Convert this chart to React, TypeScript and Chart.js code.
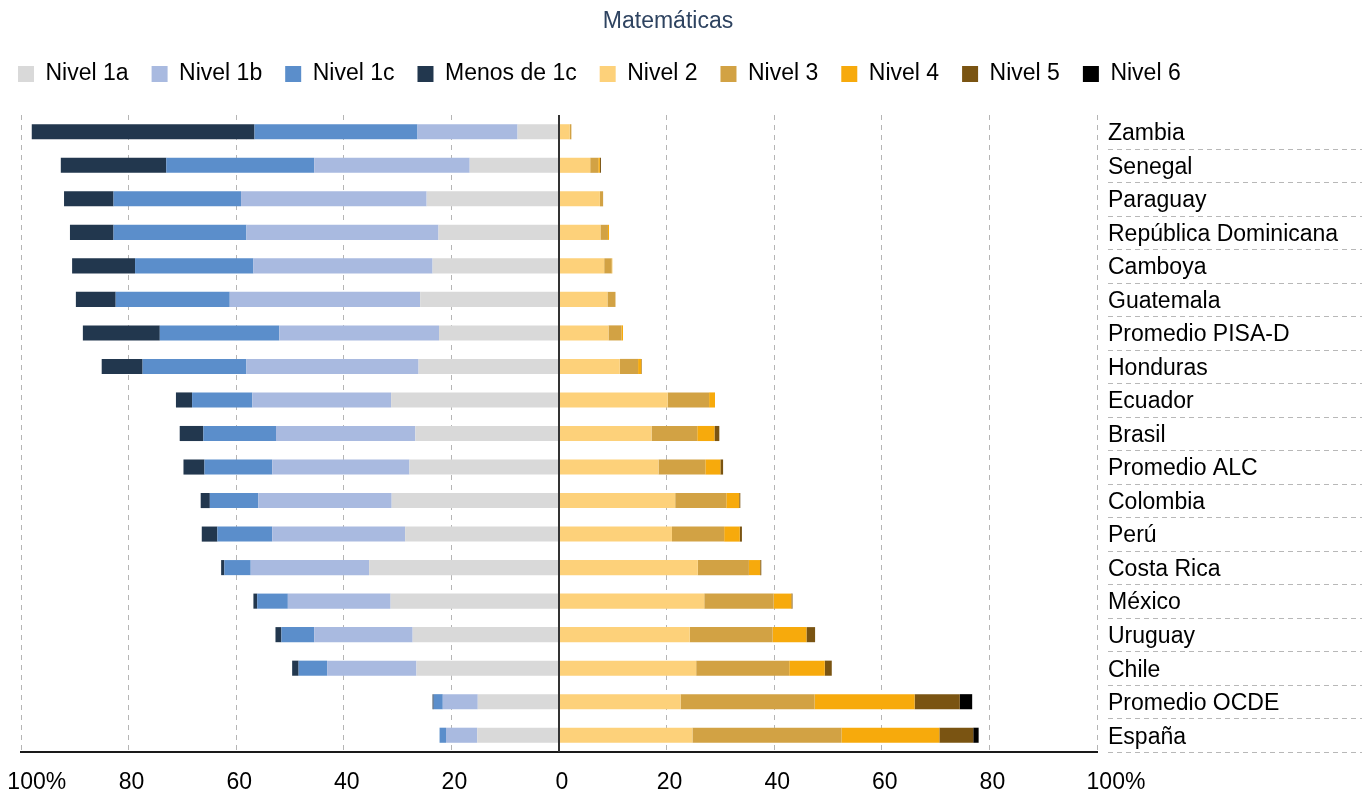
import React, { useEffect, useRef } from 'react';
import { Chart, registerables } from 'chart.js';

Chart.register(...registerables);

const countries = [
  'Zambia', 'Senegal', 'Paraguay', 'República Dominicana', 'Camboya', 'Guatemala',
  'Promedio PISA-D', 'Honduras', 'Ecuador', 'Brasil', 'Promedio ALC', 'Colombia',
  'Perú', 'Costa Rica', 'México', 'Uruguay', 'Chile', 'Promedio OCDE', 'España',
];

// Below level 2 (drawn to the left of 0)
const nivel1a = [7.7, 16.6, 24.6, 22.4, 23.5, 25.8, 22.3, 26.1, 31.2, 26.7, 27.8, 31.1, 28.6, 35.3, 31.3, 27.2, 26.5, 15.1, 15.2];
const nivel1b = [18.6, 28.9, 34.5, 35.7, 33.3, 35.4, 29.7, 32.0, 25.8, 25.9, 25.5, 24.8, 24.7, 22.0, 19.1, 18.3, 16.6, 6.5, 5.8];
const nivel1c = [30.3, 27.5, 23.7, 24.7, 22.0, 21.2, 22.2, 19.3, 11.2, 13.5, 12.6, 9.0, 10.2, 4.9, 5.7, 6.1, 5.3, 1.7, 1.2];
const menos1c = [41.4, 19.6, 9.2, 8.1, 11.7, 7.4, 14.3, 7.6, 3.0, 4.4, 3.9, 1.7, 2.9, 0.6, 0.7, 1.1, 1.2, 0.2, 0.0];

// Level 2 and above (drawn to the right of 0)
const nivel2 = [2.0, 5.8, 7.6, 7.7, 8.4, 9.0, 9.2, 11.3, 20.2, 17.2, 18.5, 21.6, 21.0, 25.8, 27.0, 24.3, 25.5, 22.6, 24.8];
const nivel3 = [0.3, 1.5, 0.6, 1.4, 1.4, 1.5, 2.4, 3.4, 7.7, 8.5, 8.7, 9.5, 9.7, 9.5, 12.9, 15.4, 17.3, 24.9, 27.7];
const nivel4 = [0.0, 0.3, 0.0, 0.2, 0.1, 0.0, 0.3, 0.6, 1.1, 3.2, 2.8, 2.4, 2.9, 2.1, 3.3, 6.3, 6.6, 18.6, 18.2];
const nivel5 = [0.0, 0.2, 0.0, 0.0, 0.0, 0.0, 0.0, 0.1, 0.0, 0.9, 0.5, 0.2, 0.4, 0.2, 0.2, 1.6, 1.3, 8.4, 6.3];
const nivel6 = [0.0, 0.0, 0.0, 0.0, 0.0, 0.0, 0.0, 0.0, 0.0, 0.0, 0.0, 0.0, 0.0, 0.0, 0.0, 0.0, 0.0, 2.3, 1.0];

const xTicks = [-100, -80, -60, -40, -20, 0, 20, 40, 60, 80, 100];

const FONT = "'Liberation Sans', Arial, Helvetica, sans-serif";

export default function App() {
  const ref = useRef<HTMLCanvasElement>(null);

  useEffect(() => {
    const canvas = ref.current;
    if (!canvas) return;

    const zeroLine = {
      id: 'zeroLine',
      afterDatasetsDraw(chart: any) {
        const ctx = chart.ctx;
        const x = chart.scales.x.getPixelForValue(0);
        const { top, bottom } = chart.chartArea;
        ctx.save();
        ctx.strokeStyle = '#333333';
        ctx.lineWidth = 2;
        ctx.beginPath();
        ctx.moveTo(x, top);
        ctx.lineTo(x, bottom);
        ctx.stroke();
        ctx.restore();
      },
    };

    const rowRules = {
      id: 'rowRules',
      afterDraw(chart: any) {
        const ctx = chart.ctx;
        const y = chart.scales.y;
        const band = (y.bottom - y.top) / countries.length;
        const x0 = y.left + 11;
        const x1 = chart.width - 3;
        ctx.save();
        ctx.strokeStyle = '#b8b8b8';
        ctx.lineWidth = 1;
        ctx.setLineDash([5, 4]);
        for (let i = 0; i < countries.length; i++) {
          const py = Math.round(y.getPixelForValue(i) + band / 2) + 0.5;
          ctx.beginPath();
          ctx.moveTo(x0, py);
          ctx.lineTo(x1, py);
          ctx.stroke();
        }
        ctx.restore();
      },
    };

    const neg = (a: number[]) => a.map((v) => -v);
    const mk = (label: string, data: number[], color: string) => ({
      label,
      data,
      backgroundColor: color,
      borderWidth: 0,
      barPercentage: 0.45,
      categoryPercentage: 1,
      stack: 's',
    });

    const chart = new Chart(canvas, {
      type: 'bar',
      data: {
        labels: countries,
        datasets: [
          mk('Nivel 1a', neg(nivel1a), '#d9d9d9'),
          mk('Nivel 1b', neg(nivel1b), '#a9bae0'),
          mk('Nivel 1c', neg(nivel1c), '#5b8ecb'),
          mk('Menos de 1c', neg(menos1c), '#22374e'),
          mk('Nivel 2', nivel2, '#fdd17a'),
          mk('Nivel 3', nivel3, '#d2a244'),
          mk('Nivel 4', nivel4, '#f7aa0c'),
          mk('Nivel 5', nivel5, '#7a5412'),
          mk('Nivel 6', nivel6, '#000000'),
        ],
      },
      options: {
        indexAxis: 'y',
        responsive: false,
        animation: false,
        layout: { padding: { left: 0, right: 24, top: 0, bottom: 0 } },
        scales: {
          x: {
            type: 'linear',
            stacked: true,
            min: -100,
            max: 100,
            afterBuildTicks: (scale: any) => {
              scale.ticks = xTicks.map((v) => ({ value: v }));
            },
            afterFit: (scale: any) => {
              scale.height = 44;
              scale.paddingLeft = 26;
              scale.paddingRight = 0;
            },
            grid: {
              drawTicks: false,
              color: (c: any) => (c.tick && c.tick.value === 0 ? 'rgba(0,0,0,0)' : '#b5b5b5'),
              lineWidth: 1,
            },
            border: { display: true, color: '#1a1a1a', width: 2, dash: [5, 5] },
            ticks: {
              autoSkip: false,
              maxRotation: 0,
              minRotation: 0,
              padding: 17,
              labelOffset: 3,
              color: '#000000',
              font: { family: FONT, size: 23 },
              callback: (v: any) => {
                const n = Number(v);
                if (n === -100) return '    100%';
                if (n === 100) return '     100%';
                return String(Math.abs(n));
              },
            },
          },
          y: {
            type: 'category',
            position: 'right',
            stacked: true,
            afterFit: (scale: any) => {
              scale.width = 244;
              scale.paddingTop = 0;
              scale.paddingBottom = 0;
            },
            grid: { display: false, drawTicks: false },
            border: { display: false },
            ticks: {
              padding: 11,
              labelOffset: 2,
              color: '#000000',
              font: { family: FONT, size: 23 },
            },
          },
        },
        plugins: {
          title: {
            display: true,
            text: 'Matemáticas',
            color: '#2e4360',
            align: 'center',
            font: { family: FONT, size: 23, weight: 'normal' },
            padding: { top: 8.2, bottom: 3.7 },
          },
          legend: {
            display: true,
            position: 'top',
            align: 'start',
            labels: {
              boxWidth: 16,
              boxHeight: 16,
              padding: 23,
              color: '#000000',
              font: { family: FONT, size: 23 },
            },
          },
          subtitle: {
            display: true,
            text: ' ',
            weight: 500,
            position: 'top',
            font: { family: FONT, size: 1, lineHeight: 1 },
            padding: { top: 18.5, bottom: 0 },
          },
          tooltip: { enabled: false },
        },
      },
      plugins: [zeroLine, rowRules],
    } as any);

    return () => chart.destroy();
  }, []);

  return (
    <div style={{ position: 'absolute', left: -5, top: 0, width: 1370, height: 796 }}>
      <canvas ref={ref} width={1370} height={796} style={{ display: 'block' }} />
    </div>
  );
}
